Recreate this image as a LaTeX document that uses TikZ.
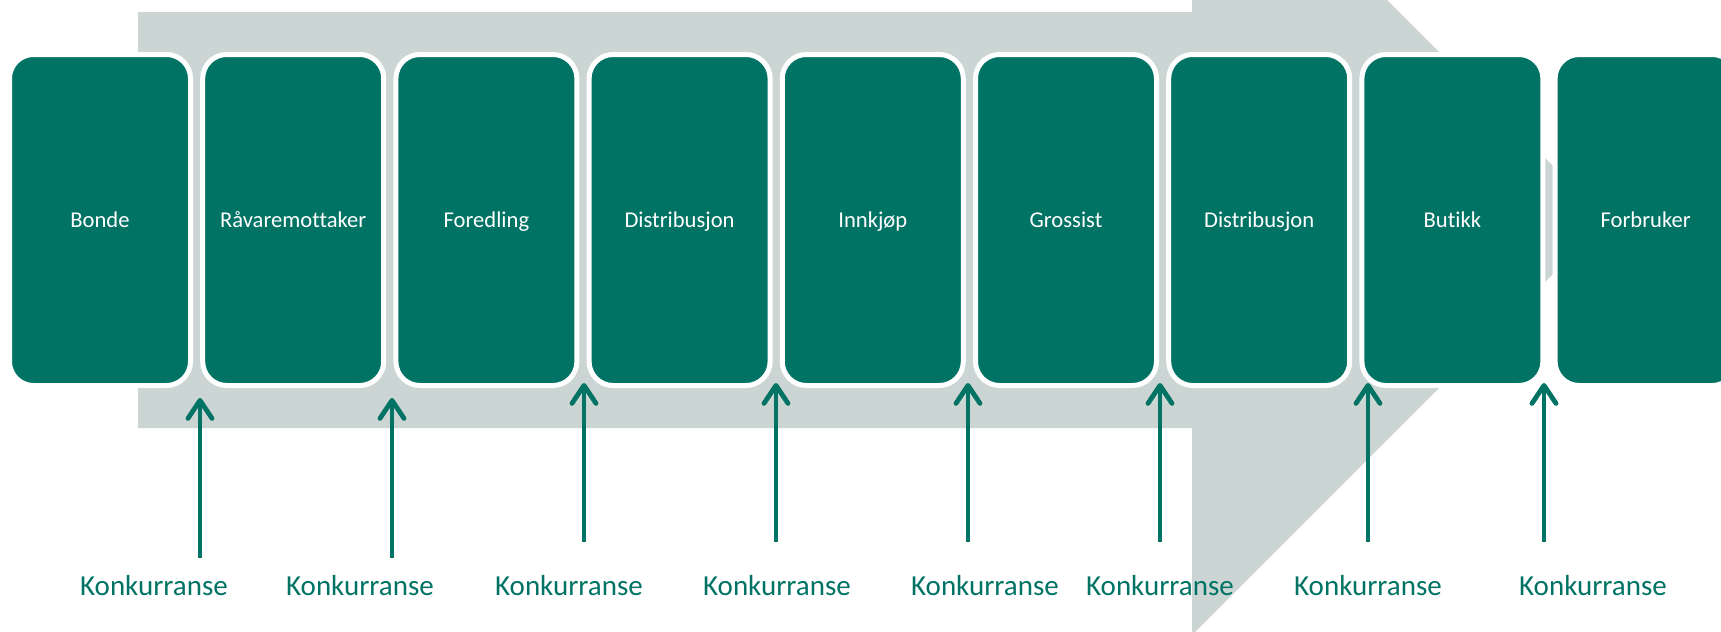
\documentclass[tikz,border=0pt]{standalone}
\usepackage{fontspec}
\setmainfont{Carlito}[Ligatures=NoCommon]
\usetikzlibrary{arrows.meta}
\definecolor{kjedegronn}{RGB}{0,115,100}
\definecolor{kjedegraa}{RGB}{203,213,211}

\begin{document}
\begin{tikzpicture}[x=0.5pt, y=-0.5pt,
	ledd/.style={fill=kjedegronn, draw=white, line width=2.5pt, rounded corners=12pt,
		minimum width=90.5pt, minimum height=165.5pt, inner sep=0pt, text=white,
		font=\fontsize{11.3}{13}\selectfont, text height=8pt, text depth=1pt},
	konk/.style={draw=kjedegronn, line width=2.4pt,
		-{Straight Barb[length=9pt, width=12pt, round]}},
	etikett/.style={text=kjedegronn, font=\fontsize{14.5}{17}\selectfont, anchor=base}]
	\useasboundingbox (0,0) rectangle (1721,632);
	\clip (0,0) rectangle (1721,632);
	% grey arrow behind the chain
	\fill[kjedegraa] (138,12) -- (1192,12) -- (1192,-195) -- (1607,220)
		-- (1192,635) -- (1192,428) -- (138,428) -- cycle;
	% the links
	\node[ledd] (bonde) at (100,220) {Bonde};
	\node[ledd] (raavare) at (293.2,220) {Råvaremottaker};
	\node[ledd] (foredling) at (486.4,220) {Foredling};
	\node[ledd] (distA) at (679.6,220) {Distribusjon};
	\node[ledd] (innkjop) at (872.8,220) {Innkjøp};
	\node[ledd] (grossist) at (1066,220) {Grossist};
	\node[ledd] (distB) at (1259.2,220) {Distribusjon};
	\node[ledd] (butikk) at (1452.4,220) {Butikk};
	\node[ledd] (forbruker) at (1645.6,220) {Forbruker};
	% competition arrows
	\coordinate (k1a) at (200,558);  \coordinate (k1b) at (200,398);
	\coordinate (k2a) at (392,558);  \coordinate (k2b) at (392,398);
	\coordinate (k3a) at (584,542);  \coordinate (k3b) at (584,383);
	\coordinate (k4a) at (776,542);  \coordinate (k4b) at (776,383);
	\coordinate (k5a) at (968,542);  \coordinate (k5b) at (968,383);
	\coordinate (k6a) at (1160,542); \coordinate (k6b) at (1160,383);
	\coordinate (k7a) at (1368,542); \coordinate (k7b) at (1368,383);
	\coordinate (k8a) at (1544,542); \coordinate (k8b) at (1544,383);
	\draw[konk] (k1a) -- (k1b);
	\draw[konk] (k2a) -- (k2b);
	\draw[konk] (k3a) -- (k3b);
	\draw[konk] (k4a) -- (k4b);
	\draw[konk] (k5a) -- (k5b);
	\draw[konk] (k6a) -- (k6b);
	\draw[konk] (k7a) -- (k7b);
	\draw[konk] (k8a) -- (k8b);
	\node[etikett] (e1) at (154,595) {Konkurranse};
	\node[etikett] (e2) at (360,595) {Konkurranse};
	\node[etikett] (e3) at (569,595) {Konkurranse};
	\node[etikett] (e4) at (777,595) {Konkurranse};
	\node[etikett] (e5) at (985,595) {Konkurranse};
	\node[etikett] (e6) at (1160,595) {Konkurranse};
	\node[etikett] (e7) at (1368,595) {Konkurranse};
	\node[etikett] (e8) at (1593,595) {Konkurranse};
\end{tikzpicture}
\end{document}
